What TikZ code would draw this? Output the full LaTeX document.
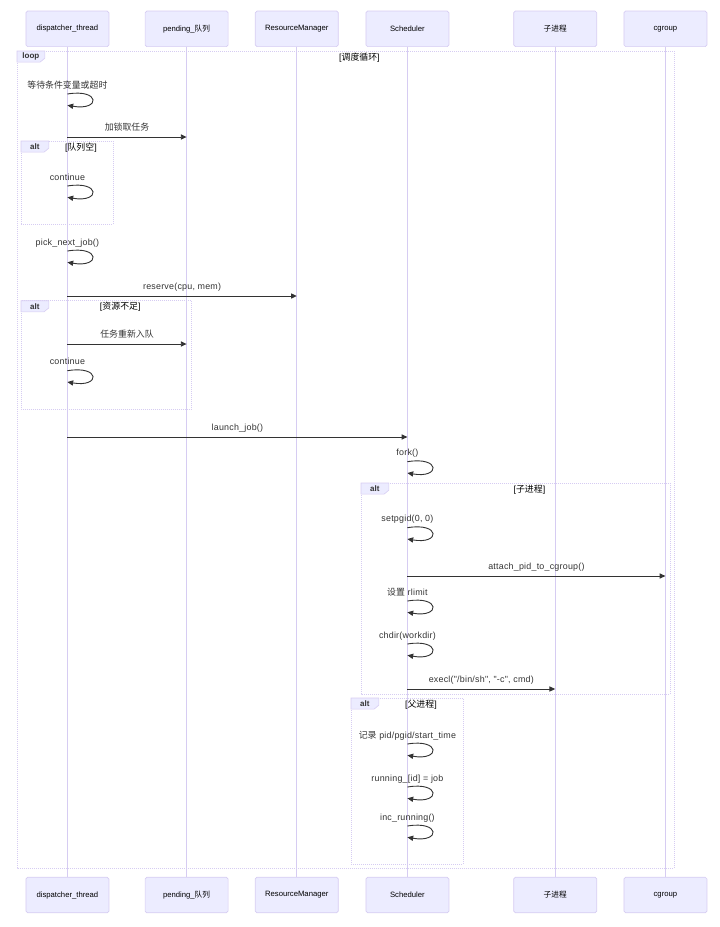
\documentclass[tikz,border=0pt]{standalone}
\usepackage{fontspec}
\setmainfont{Liberation Sans}
\newfontfamily\msgfont{Liberation Sans}[LetterSpace=2.5]
\newfontfamily\cjk{Noto Sans CJK SC}
\usetikzlibrary{arrows.meta,calc}
\definecolor{actfill}{HTML}{ECECFF}
\definecolor{actline}{HTML}{D6CCF2}
\definecolor{sig}{HTML}{333333}
\newcommand\sigmsg[5]{% name, from, to, y, text
  \coordinate (#1s) at (#2 |- 0,#4);
  \coordinate (#1e) at (#3 |- 0,#4);
  \draw[msg] (#1s) -- (#1e);
  \node[msgtext] (#1t) at ($(#1s)!0.5!(#1e)+(0,-7)$) {#5};}
\newcommand\selfmsg[4]{% name, actor, y, text
  \coordinate (#1s) at (#2 |- 0,#3);
  \coordinate (#1e) at (#2 |- 0,#3+11.3);
  \draw[msg] (#1s) .. controls ($(#1s)+(33.3,-5.5)$) and ($(#1s)+(33.3,17)$) .. (#1e);
  \node[msgtext] (#1t) at ($(#1s)+(0,-5.8)$) {#4};}
\newcommand\frm[7]{% name, x1, y1, x2, y2, kind, cond
  \draw[frame] (#2,#3) rectangle (#4,#5);
  \draw[tab] (#2,#3) -- (#2+27.8,#3) -- (#2+27.8,#3+7.2) -- (#2+23.1,#3+11.1) -- (#2,#3+11.1) -- cycle;
  \node[tabtext] (#1k) at (#2+13.9,#3+5.9) {#6};
  \node[cond] (#1c) at ({(#2+27.8+#4)/2},#3+6.3) {#7};}
\begin{document}
\begin{tikzpicture}[x=1pt,y=-1pt,
  actor/.style={draw=actline, fill=actfill, line width=0.7pt, rounded corners=1.7pt,
    minimum width=83pt, minimum height=35.6pt, inner sep=0pt,
    font=\fontsize{7.7}{9}\selectfont, text=black},
  life/.style={draw=actline, line width=0.8pt},
  msg/.style={draw=sig, line width=0.9pt, -{Triangle[length=5.8pt,width=5.2pt]}},
  msgtext/.style={font=\msgfont\fontsize{8.9}{10}\selectfont, text=sig, inner sep=0pt, anchor=base},
  frame/.style={draw=actline, line width=0.6pt, dash pattern=on 1pt off 1pt},
  tab/.style={draw=actline, fill=actfill, line width=0.6pt},
  tabtext/.style={font=\bfseries\fontsize{8}{10}\selectfont, text=sig, inner sep=0pt},
  cond/.style={font=\fontsize{8.9}{10}\selectfont, text=black, inner sep=0pt}
]
\useasboundingbox (0,0) rectangle (720,927);
% actors
\foreach \n/\x/\t in {A/67.4/dispatcher\_thread, B/186.6/pending\_{\cjk 队列}, C/296.8/ResourceManager,
  D/407.4/Scheduler, E/555.2/{\cjk 子进程}, F/665.4/cgroup} {
  \node[actor] (t\n) at (\x,28.8) {\t};
  \node[actor] (b\n) at (\x,895) {\t};
  \draw[life] (t\n.south) -- (b\n.north);
}
% frames
\frm{loop}{17}{51}{674}{868}{loop}{[{\cjk 调度循环}]}
\frm{altA}{21}{141}{113}{224.7}{alt}{[{\cjk 队列空}]}
\frm{altB}{21}{300.7}{191.7}{409}{alt}{[{\cjk 资源不足}]}
\frm{altC}{361}{483}{670}{694}{alt}{[{\cjk 子进程}]}
\frm{altD}{351}{698}{463}{864}{alt}{[{\cjk 父进程}]}
% messages
\selfmsg{m1}{tA}{94}{{\cjk 等待条件变量或超时}}
\sigmsg{m2}{tA}{tB}{137}{{\cjk 加锁取任务}}
\selfmsg{m3}{tA}{186}{continue}
\selfmsg{m4}{tA}{251}{pick\_next\_job()}
\sigmsg{m5}{tA}{tC}{296}{reserve(cpu, mem)}
\sigmsg{m6}{tA}{tB}{344}{{\cjk 任务重新入队}}
\selfmsg{m7}{tA}{370.7}{continue}
\sigmsg{m8}{tA}{tD}{437}{launch\_job()}
\selfmsg{m9}{tD}{461.7}{fork()}
\selfmsg{m10}{tD}{527.7}{setpgid(0, 0)}
\sigmsg{m11}{tD}{tF}{576}{attach\_pid\_to\_cgroup()}
\selfmsg{m12}{tD}{601}{{\cjk 设置} rlimit}
\selfmsg{m13}{tD}{644}{chdir(workdir)}
\sigmsg{m14}{tD}{tE}{689}{execl("/bin/sh", "-c", cmd)}
\selfmsg{m15}{tD}{744}{{\cjk 记录} pid/pgid/start\_time}
\selfmsg{m16}{tD}{787}{running\_[id] = job}
\selfmsg{m17}{tD}{826}{inc\_running()}
\end{tikzpicture}
\end{document}
